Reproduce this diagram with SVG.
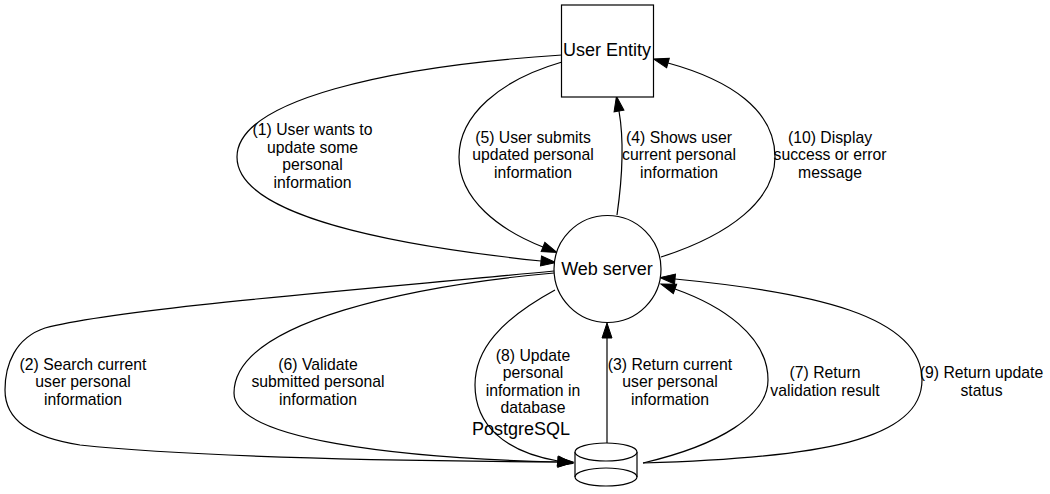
<svg xmlns="http://www.w3.org/2000/svg" width="1050" height="494" viewBox="0 0 1050 494">
<style>
.node{fill:#fff;stroke:#000;stroke-width:1.2}
.edge{fill:none;stroke:#000;stroke-width:1.2}
.nl{font-family:"Liberation Sans",Arial,sans-serif;font-size:18px;text-anchor:middle;fill:#000}
.el{font-family:"Liberation Sans",Arial,sans-serif;font-size:15.75px;text-anchor:middle;fill:#000}
</style>
<defs>
<marker id="arr" markerUnits="userSpaceOnUse" markerWidth="16" markerHeight="11" refX="0" refY="5" orient="auto" overflow="visible">
<path d="M0,0 L15,5 L0,10 Z" fill="#000" stroke="#000" stroke-width="1"/>
</marker>
</defs>
<rect width="1050" height="494" fill="#fff"/>
<g id="connectors">
<g id="e1"><path class="edge" marker-end="url(#arr)" d="M562,55 C390,66 237,100 237,157 C237,215 390,245 541,261"/>
<text class="el" x="312.5"><tspan x="312.5" y="135">(1) User wants to</tspan><tspan x="312.5" y="152.5">update some</tspan><tspan x="312.5" y="170">personal</tspan><tspan x="312.5" y="187.5">information</tspan></text></g>
<g id="e2"><path class="edge" marker-end="url(#arr)" d="M554,271 C380,288 120,308 45,328 C15,338 5,365 5,390 C5,420 30,437 80,445 C200,458 420,461 558,462"/>
<text class="el"><tspan x="83" y="369.5">(2) Search current</tspan><tspan x="83" y="387">user personal</tspan><tspan x="83" y="404.5">information</tspan></text></g>
<g id="e3"><path class="edge" marker-end="url(#arr)" d="M607,443 L607,338"/>
<text class="el"><tspan x="670" y="369.5">(3) Return current</tspan><tspan x="670" y="387">user personal</tspan><tspan x="670" y="404.5">information</tspan></text></g>
<g id="e4"><path class="edge" marker-end="url(#arr)" d="M617,215 C622,180 624,140 619,111"/>
<text class="el"><tspan x="679" y="142.5">(4) Shows user</tspan><tspan x="679" y="160">current personal</tspan><tspan x="679" y="177.5">information</tspan></text></g>
<g id="e5"><path class="edge" marker-end="url(#arr)" d="M562,62 C500,80 459,115 459,157 C459,200 500,230 543,247"/>
<text class="el"><tspan x="533" y="142.5">(5) User submits</tspan><tspan x="533" y="160">updated personal</tspan><tspan x="533" y="177.5">information</tspan></text></g>
<g id="e6"><path class="edge" marker-end="url(#arr)" d="M554,273 C420,285 234,320 234,393 C234,440 400,458 558,462"/>
<text class="el"><tspan x="318" y="369.5">(6) Validate</tspan><tspan x="318" y="387">submitted personal</tspan><tspan x="318" y="404.5">information</tspan></text></g>
<g id="e7"><path class="edge" marker-end="url(#arr)" d="M643,463 C720,445 768,415 768,380 C768,335 720,305 675,289"/>
<text class="el"><tspan x="825" y="378">(7) Return</tspan><tspan x="825" y="395.5">validation result</tspan></text></g>
<g id="e8"><path class="edge" marker-end="url(#arr)" d="M555,290 C500,320 475,350 475,385 C475,425 505,452 558,461"/>
<text class="el"><tspan x="533" y="360.5">(8) Update</tspan><tspan x="533" y="378">personal</tspan><tspan x="533" y="395.5">information in</tspan><tspan x="533" y="413">database</tspan></text></g>
<g id="e9"><path class="edge" marker-end="url(#arr)" d="M643,463 C820,458 922,440 922,380 C922,315 810,292 675,279"/>
<text class="el"><tspan x="981.5" y="378">(9) Return update</tspan><tspan x="981.5" y="395.5">status</tspan></text></g>
<g id="e10"><path class="edge" marker-end="url(#arr)" d="M661,257 C730,235 775,200 775,157 C775,110 730,80 668,63"/>
<text class="el"><tspan x="830" y="142.5">(10) Display</tspan><tspan x="830" y="160">success or error</tspan><tspan x="830" y="177.5">message</tspan></text></g>
</g>
<g id="user-entity">
<rect class="node" x="561.5" y="5" width="92" height="92"/>
<text class="nl" x="607" y="56">User Entity</text>
</g>
<g id="web-server">
<circle class="node" cx="607.5" cy="269" r="53.5"/>
<text class="nl" x="607" y="274.5">Web server</text>
</g>
<g id="postgresql">
<path class="node" d="M575,452 L575,477 A31,9 0 0 0 637,477 L637,452"/>
<ellipse class="node" cx="606" cy="452" rx="31" ry="9"/>
<path class="edge" d="M575,477 A31,9 0 0 1 637,477"/>
<text class="nl" x="521" y="435">PostgreSQL</text>
</g>
</svg>
